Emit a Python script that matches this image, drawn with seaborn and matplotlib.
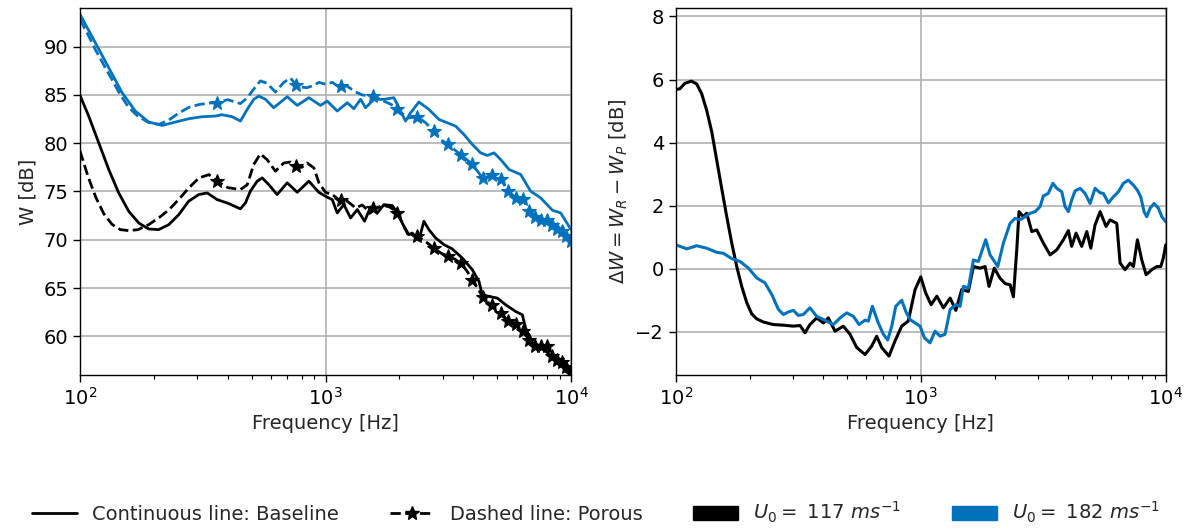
import numpy as np
import matplotlib
matplotlib.use("Agg")
import matplotlib.pyplot as plt
from matplotlib.lines import Line2D
from matplotlib.patches import Patch
import seaborn as sns

# ---------------- data ----------------
# Sound power, baseline, U0 = 182 m/s
base182_hz = [100, 115.5, 131, 148.4, 168, 190.5, 216, 244.7, 277, 314.5, 356, 379, 417, 450,
              479.7, 510, 535, 569.6, 615, 698, 766.8, 855, 954, 1016, 1116, 1226, 1304, 1389,
              1455, 1574, 1729, 1898, 2118, 2220, 2400, 2636, 2895, 3133, 3386, 3661, 3961,
              4282, 4560, 4853, 5166, 5585, 6232, 6842, 7516, 8391, 9073, 9797, 10000]
base182_db = [93.35, 90.4, 87.8, 85.23, 83.33, 82.19, 81.84, 82.19, 82.53, 82.74, 82.81, 82.95,
              82.74, 82.29, 83.5, 84.54, 84.88, 84.54, 83.67, 84.81, 83.91, 84.71, 83.91, 84.36,
              83.33, 84.19, 83.57, 84.54, 83.67, 84.54, 84.54, 84.71, 82.29, 83.15, 84.26, 83.5,
              82.46, 82.11, 81.77, 80.9, 79.87, 79.0, 78.73, 79.0, 78.31, 77.28, 76.76, 75.03,
              74.34, 73.06, 72.78, 71.4, 71.05]

# Sound power, baseline, U0 = 117 m/s
base117_hz = [100, 108.5, 119.2, 131, 143.8, 158, 173.5, 190.5, 209, 230, 252.5, 277, 304.6,
              329.6, 362, 403.6, 450, 472, 494, 527, 552, 587, 635, 698, 767, 855, 939, 1000,
              1065, 1116, 1187, 1265, 1347, 1442, 1526, 1625, 1729, 1870, 1960, 2085, 2185,
              2255, 2400, 2515, 2636, 2807, 3035, 3282, 3606, 3961, 4215, 4350, 4628, 5009,
              5415, 5945, 6332, 6532, 6957, 7638, 8260, 8929, 9797, 10000]
base117_db = [84.95, 82.81, 80.04, 77.27, 74.85, 72.95, 71.74, 71.12, 71.05, 71.57, 72.6, 73.99,
              74.68, 74.85, 74.16, 73.75, 73.2, 73.82, 75.03, 76.07, 76.41, 75.72, 74.68, 75.9,
              74.92, 76.07, 74.92, 74.5, 74.16, 72.78, 73.64, 72.26, 73.13, 71.92, 73.4, 72.78,
              73.64, 73.54, 72.78, 71.4, 70.53, 70.7, 69.95, 71.92, 71.05, 70.19, 69.5, 69.05,
              68.11, 66.9, 65.7, 64.31, 64.14, 63.96, 63.27, 62.58, 62.23, 60.85, 59.3, 58.95,
              57.91, 57.05, 56.35, 56.18]

# Porous trailing edge, shared frequency grid
porous_hz = [100, 108, 116, 125, 135, 146, 158, 172, 190, 210,
             230, 252, 277, 305, 335, 360, 400, 450, 480, 510,
             543, 578, 625, 676, 720, 760, 800, 842, 896, 940,
             1000, 1065, 1130, 1160, 1226, 1325, 1411, 1480, 1560, 1650,
             1730, 1820, 1900, 1960, 2160, 2360, 2560, 2760, 2960, 3160,
             3360, 3560, 3760, 3960, 4160, 4360, 4560, 4760, 4960, 5160,
             5560, 5960, 6360, 6760, 7160, 7560, 7960, 8360, 8760, 9160,
             9560, 9960, 10000]
porous182_db = [92.8, 91.2, 89.6, 88.1, 86.6, 85.0, 83.7, 82.8, 82.15, 81.95,
                82.4, 83.1, 83.7, 84.0, 84.15, 84.2, 84.5, 84.1, 84.7, 85.6,
                86.45, 86.2, 85.3, 86.3, 86.75, 86.0, 85.8, 85.75, 86.0, 86.3,
                86.1, 86.3, 85.85, 85.9, 85.9, 85.3, 85.0, 84.9, 84.9, 84.6,
                84.35, 84.1, 83.85, 83.5, 82.6, 82.74, 82.1, 81.26, 80.3, 79.9,
                79.3, 78.8, 78.3, 77.8, 77.1, 76.4, 76.5, 76.7, 76.5, 76.25,
                75.05, 74.3, 74.2, 73.0, 72.4, 72.05, 72.1, 71.5, 71.1, 70.9,
                70.4, 69.9, 69.85]
porous117_db = [79.2, 76.5, 74.4, 72.7, 71.6, 71.05, 70.95, 71.05, 71.55, 72.3,
                73.1, 74.15, 75.35, 76.4, 76.75, 76.1, 75.4, 75.2, 75.7, 77.8,
                78.9, 78.3, 77.1, 77.95, 78.05, 77.6, 77.5, 77.95, 77.45, 75.9,
                74.9, 74.7, 74.15, 74.1, 74.0, 73.3, 73.6, 73.1, 73.3, 73.4,
                73.55, 73.4, 73.1, 72.8, 70.6, 70.4, 69.8, 69.15, 68.6, 68.3,
                68.0, 67.55, 66.8, 65.85, 65.0, 64.1, 63.6, 63.2, 62.8, 62.4,
                61.6, 61.25, 60.6, 59.6, 59.05, 59.0, 59.0, 57.95, 57.6, 57.3,
                56.8, 56.25, 56.2]

# Difference baseline - porous
delta117_hz = [100, 104, 109, 116, 121.8, 127.6, 133.8, 140.3, 147, 154, 161.5, 169.3, 177.4,
               185.9, 195, 204.2, 214, 228, 250, 275, 302, 321.5, 337, 353, 376, 400.4, 419.6,
               446.8, 483, 514.5, 548, 592.5, 631, 661, 693, 742, 785, 836, 889, 948, 1000,
               1048, 1102, 1163, 1237, 1318, 1390, 1470, 1564, 1640, 1746, 1830, 1900, 1996,
               2107, 2209, 2315, 2388, 2465, 2518, 2624, 2708, 2838, 2975, 3166, 3372, 3590,
               3820, 4004, 4130, 4305, 4540, 4760, 4943, 5145, 5395, 5706, 5925, 6310, 6510,
               6823, 7150, 7380, 7660, 7980, 8314, 8770, 9190, 9541, 9773, 10000]
delta117_db = [5.68, 5.71, 5.88, 5.95, 5.86, 5.55, 5.02, 4.34, 3.44, 2.55, 1.65, 0.81, 0.07,
               -0.56, -1.08, -1.43, -1.59, -1.69, -1.77, -1.79, -1.82, -1.8, -2.03, -1.77, -1.56,
               -1.72, -1.56, -1.98, -1.82, -2.08, -2.5, -2.72, -2.45, -2.14, -2.5, -2.77, -2.29,
               -1.82, -1.66, -0.66, -0.26, -0.77, -1.14, -0.87, -1.24, -0.93, -1.32, -0.66, -0.72,
               0.07, 0.02, 0.07, -0.56, 0.02, -0.3, -0.47, -0.51, -0.89, 0.6, 1.81, 1.65, 1.76,
               1.18, 1.23, 0.81, 0.44, 0.6, 0.92, 1.21, 0.71, 1.13, 0.71, 1.18, 0.65, 1.39, 1.81,
               1.34, 1.55, 1.44, 0.18, -0.03, 0.18, 0.07, 0.92, 0.28, -0.19, -0.03, 0.07, 0.07,
               0.34, 0.76]

delta182_hz = [100, 110.9, 121.8, 133.8, 147, 156.5, 169.3, 183, 198, 214, 231.5, 246.6, 262.4,
               275, 288.4, 302, 316.5, 331.7, 353, 376, 400.4, 440, 468.4, 499, 531, 560, 592.5,
               611, 634.6, 671, 704, 733, 761.5, 790.7, 836, 868.5, 904, 948, 993.5, 1034.6,
               1091, 1144, 1199, 1256, 1318, 1390, 1447, 1493, 1564, 1640, 1718, 1841, 1918,
               2062, 2173, 2315, 2426, 2543, 2665, 2793, 2928, 3069, 3166, 3315, 3460, 3590,
               3764, 3881, 4004, 4130, 4266, 4470, 4684, 4910, 5145, 5395, 5560, 5832, 6110,
               6405, 6714, 7036, 7380, 7660, 7906, 8152, 8362, 8630, 8958, 9333, 9632, 10000]
delta182_db = [0.76, 0.63, 0.73, 0.65, 0.52, 0.49, 0.32, 0.23, 0.02, -0.29, -0.45, -0.82, -1.29,
               -1.45, -1.37, -1.32, -1.48, -1.45, -1.24, -1.51, -1.61, -1.77, -1.56, -1.4, -1.51,
               -1.77, -1.63, -1.66, -1.19, -1.72, -2.08, -2.26, -1.82, -1.19, -1.0, -1.35, -1.61,
               -1.72, -1.82, -2.19, -2.35, -1.98, -2.14, -2.08, -1.29, -1.14, -1.19, -0.56, -0.61,
               0.28, 0.23, 0.92, 0.44, 0.07, 0.81, 1.44, 1.6, 1.55, 1.65, 1.76, 1.81, 1.97, 2.31,
               2.39, 2.71, 2.55, 2.44, 1.97, 1.81, 2.18, 2.47, 2.55, 2.39, 2.07, 2.55, 2.41, 2.39,
               2.09, 2.28, 2.44, 2.71, 2.81, 2.65, 2.49, 2.28, 1.81, 1.65, 1.92, 2.07, 1.92, 1.65,
               1.49]

speed_labels = [r"$U_0 =$ 117 $ms^{-1}$", r"$U_0 =$ 182 $ms^{-1}$"]

# ---------------- style ----------------
BLUE = "#0072BD"
BLACK = "#000000"
GRID = "#b0b0b0"

sns.set_theme(style="ticks")
plt.rcParams.update({
    "font.family": ["DejaVu Sans"],
    "font.size": 14,
    "axes.labelsize": 14,
    "xtick.labelsize": 14,
    "ytick.labelsize": 14,
    "axes.edgecolor": "black",
    "axes.linewidth": 1.0,
    "xtick.color": "black",
    "ytick.color": "black",
    "mathtext.fontset": "dejavusans",
})

fig = plt.figure(figsize=(11.92, 5.32), dpi=100)
ax1 = fig.add_axes([0.0671, 0.2951, 0.412, 0.6899])
ax2 = fig.add_axes([0.5669, 0.2951, 0.4111, 0.6899])

# star markers every 400 Hz on the porous curves
mark_mask = [(f >= 360) and ((f - 360) % 400 == 0) for f in porous_hz]

# ---------------- left: sound power ----------------
sns.lineplot(x=base182_hz, y=base182_db, ax=ax1, color=BLUE, lw=2, sort=False,
             errorbar=None)
sns.lineplot(x=porous_hz, y=porous182_db, ax=ax1, color=BLUE, lw=2, ls="--",
             marker="*", markersize=10, markevery=mark_mask, markeredgewidth=0.8,
             markeredgecolor=BLUE, sort=False, errorbar=None)
sns.lineplot(x=base117_hz, y=base117_db, ax=ax1, color=BLACK, lw=2, sort=False,
             errorbar=None)
sns.lineplot(x=porous_hz, y=porous117_db, ax=ax1, color=BLACK, lw=2, ls="--",
             marker="*", markersize=10, markevery=mark_mask, markeredgewidth=0.8,
             markeredgecolor=BLACK, sort=False, errorbar=None)

ax1.set_xscale("log")
ax1.set_xlim(100, 10000)
ax1.set_ylim(56, 94)
ax1.set_yticks([60, 65, 70, 75, 80, 85, 90])
ax1.set_xlabel("Frequency [Hz]")
ax1.set_ylabel("W [dB]")

# ---------------- right: difference ----------------
sns.lineplot(x=delta117_hz, y=delta117_db, ax=ax2, color=BLACK, lw=2.2, sort=False,
             errorbar=None)
sns.lineplot(x=delta182_hz, y=delta182_db, ax=ax2, color=BLUE, lw=2.2, sort=False,
             errorbar=None)

ax2.set_xscale("log")
ax2.set_xlim(100, 10000)
ax2.set_ylim(-3.37, 8.27)
ax2.set_yticks([-2, 0, 2, 4, 6, 8])
ax2.set_xlabel("Frequency [Hz]")
ax2.set_ylabel(r"$\Delta W = W_R - W_P$ [dB]")

for ax in (ax1, ax2):
    ax.grid(True, which="major", color=GRID, lw=1.2)
    ax.grid(False, which="minor")
    ax.set_axisbelow(True)
    for s in ax.spines.values():
        s.set_visible(True)
        s.set_color("black")
    ax.tick_params(which="major", direction="out", length=5, width=1)
    ax.tick_params(which="minor", direction="out", length=3, width=0.8)

# ---------------- legend ----------------
handles = [
    Line2D([], [], color=BLACK, lw=2),
    Line2D([], [], color=BLACK, lw=2, ls="--", marker="*", markersize=10),
    Patch(facecolor=BLACK, edgecolor=BLACK),
    Patch(facecolor=BLUE, edgecolor=BLUE),
]
labels = ["Continuous line: Baseline", "Dashed line: Porous"] + speed_labels
fig.legend(handles, labels, loc="center", bbox_to_anchor=(0.5, 0.036), ncol=4,
           frameon=False, fontsize=14, columnspacing=2.6, handlelength=2.3,
           handletextpad=0.8)

fig.savefig("out.png", dpi=100)
